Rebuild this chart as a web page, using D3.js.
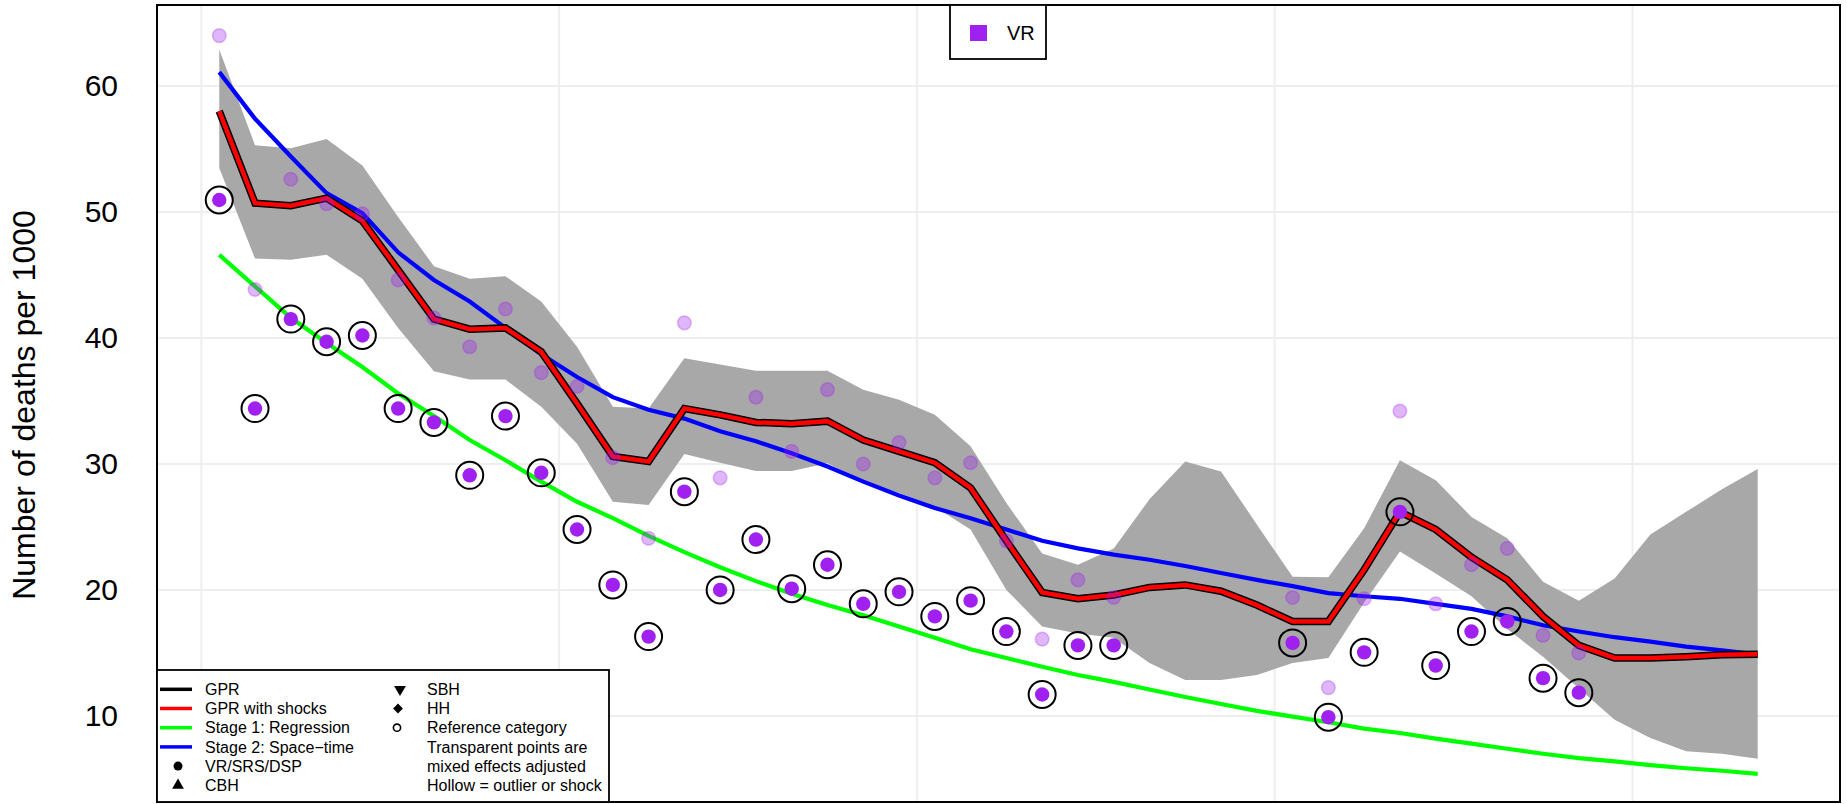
<!DOCTYPE html>
<html>
<head>
<meta charset="utf-8">
<script src="https://cdn.jsdelivr.net/npm/d3@7"></script>
<style>
  html, body { margin: 0; padding: 0; background: #ffffff; }
  svg { display: block; font-family: "Liberation Sans", Arial, Helvetica, sans-serif; }
</style>
</head>
<body>
<svg id="chart" width="1847" height="804"></svg>
<script>
// ---------------- DATA ----------------
const years = [1970.5, 1971.5, 1972.5, 1973.5, 1974.5, 1975.5, 1976.5, 1977.5, 1978.5, 1979.5,
  1980.5, 1981.5, 1982.5, 1983.5, 1984.5, 1985.5, 1986.5, 1987.5, 1988.5, 1989.5,
  1990.5, 1991.5, 1992.5, 1993.5, 1994.5, 1995.5, 1996.5, 1997.5, 1998.5, 1999.5,
  2000.5, 2001.5, 2002.5, 2003.5, 2004.5, 2005.5, 2006.5, 2007.5, 2008.5, 2009.5,
  2010.5, 2011.5, 2012.5, 2013.5];

const gpr = [58.0, 50.7, 50.5, 51.1, 49.3, 45.4, 41.5, 40.7, 40.8, 38.9,
  34.8, 30.6, 30.2, 34.4, 33.9, 33.3, 33.2, 33.4, 31.9, 31.0,
  30.1, 28.1, 23.9, 19.8, 19.3, 19.6, 20.2, 20.4, 19.9, 18.8,
  17.5, 17.5, 21.6, 26.2, 24.8, 22.6, 20.8, 17.9, 15.6, 14.6,
  14.6, 14.7, 14.85, 14.9];

const gprShocks = [58.0, 50.7, 50.5, 51.1, 49.3, 45.4, 41.5, 40.7, 40.8, 38.9,
  34.8, 30.6, 30.2, 34.4, 33.9, 33.3, 33.2, 33.4, 31.9, 31.0,
  30.1, 28.1, 23.9, 19.8, 19.3, 19.6, 20.2, 20.4, 19.9, 18.8,
  17.5, 17.5, 21.6, 26.2, 24.8, 22.6, 20.8, 17.9, 15.6, 14.6,
  14.6, 14.7, 14.85, 14.9];

const stage1 = [46.6, 44.1, 41.6, 39.6, 37.7, 35.6, 33.8, 31.9, 30.3, 28.6,
  27.0, 25.7, 24.3, 23.0, 21.8, 20.7, 19.7, 18.8, 18.0, 17.1,
  16.2, 15.3, 14.6, 13.9, 13.25, 12.7, 12.1, 11.5, 10.95, 10.4,
  9.95, 9.5, 9.0, 8.65, 8.2, 7.8, 7.4, 7.0, 6.65, 6.4,
  6.1, 5.85, 5.65, 5.4];

const stage2 = [61.1, 57.4, 54.4, 51.5, 49.9, 46.8, 44.6, 42.9, 40.8, 38.7,
  36.9, 35.3, 34.3, 33.6, 32.6, 31.8, 30.85, 29.8, 28.6, 27.5,
  26.5, 25.7, 24.8, 23.9, 23.3, 22.8, 22.4, 21.9, 21.35, 20.8,
  20.3, 19.75, 19.5, 19.3, 18.9, 18.5, 17.9, 17.2, 16.7, 16.25,
  15.9, 15.5, 15.2, 14.9];

const upperUI = [62.9, 55.3, 55.05, 55.8, 53.7, 49.6, 45.7, 44.7, 44.9, 42.9,
  39.3, 34.55, 34.4, 38.4, 37.9, 37.4, 37.4, 37.4, 35.9, 35.1,
  33.9, 31.4, 26.9, 22.9, 22.0, 23.3, 27.2, 30.2, 29.4, 25.2,
  21.05, 21.0, 24.9, 30.3, 28.7, 25.8, 24.1, 20.65, 19.15, 20.9,
  24.4, 26.2, 28.0, 29.6];

const lowerUI = [53.5, 46.3, 46.2, 46.6, 44.7, 40.8, 37.35, 36.7, 36.7, 34.55,
  31.6, 27.0, 26.75, 30.8, 30.1, 29.45, 29.45, 30.05, 28.6, 27.7,
  26.6, 24.8, 20.0, 17.1, 16.55, 16.2, 14.2, 12.85, 12.85, 13.25,
  14.2, 14.6, 19.0, 23.05, 21.3, 19.5, 16.9, 14.7, 12.2, 9.7,
  8.25, 7.2, 7.0, 6.6];

// VR data points (raw, flagged as outlier/shock -> drawn with ring)
const vrYears = [1970.5, 1971.5, 1972.5, 1973.5, 1974.5, 1975.5, 1976.5, 1977.5, 1978.5, 1979.5,
  1980.5, 1981.5, 1982.5, 1983.5, 1984.5, 1985.5, 1986.5, 1987.5, 1988.5, 1989.5,
  1990.5, 1991.5, 1992.5, 1993.5, 1994.5, 1995.5,
  2000.5, 2001.5, 2002.5, 2003.5, 2004.5, 2005.5, 2006.5, 2007.5, 2008.5];
const vrRaw = [50.95, 34.4, 41.5, 39.7, 40.2, 34.4, 33.3, 29.1, 33.8, 29.3,
  24.8, 20.4, 16.3, 27.8, 20.0, 24.0, 20.1, 22.0, 18.9, 19.85,
  17.9, 19.15, 16.7, 11.7, 15.6, 15.6,
  15.8, 9.9, 15.05, 26.2, 14.0, 16.7, 17.5, 13.0, 11.85];
// mixed-effects adjusted values (transparent)
const vrAdjusted = [64.0, 43.85, 52.6, 50.65, 49.85, 44.6, 41.6, 39.3, 42.3, 37.25,
  36.15, 30.5, 24.1, 41.2, 28.9, 35.3, 31.0, 35.9, 30.0, 31.7,
  28.9, 30.1, 23.9, 16.1, 20.8, 19.4,
  19.4, 12.25, 19.3, 34.2, 18.9, 22.0, 23.3, 16.4, 15.0];

const yTicks = [10, 20, 30, 40, 50, 60];
const xGridYears = [1970, 1980, 1990, 2000, 2010];
const sourceLegend = ["VR"];
const lineLegend = ["GPR", "GPR with shocks", "Stage 1: Regression", "Stage 2: Space\u2212time"];
const lineLegendColors = ["#000000", "#FF0000", "#00FF00", "#0000FF"];
const shapeLegend = ["VR/SRS/DSP", "CBH"];
const col2Legend = ["SBH", "HH", "Reference category", "Transparent points are", "mixed effects adjusted", "Hollow = outlier or shock"];

// ---------------- CHART ----------------
const svg = d3.select("#chart");
const L = 157, R = 1840, T = 5, B = 802;
const PURPLE = "#A020F0";

const x = d3.scaleLinear().domain([1968.76, 2015.8]).range([L, R]);
const y = d3.scaleLinear().domain([3.17, 66.43]).range([B, T]);

// grid
const grid = svg.append("g");
grid.selectAll("line.h").data(yTicks).join("line")
  .attr("x1", L).attr("x2", R)
  .attr("y1", d => y(d)).attr("y2", d => y(d))
  .attr("stroke", "#EEEEEE").attr("stroke-width", 2);
grid.selectAll("line.v").data(xGridYears).join("line")
  .attr("x1", d => x(d)).attr("x2", d => x(d))
  .attr("y1", T).attr("y2", B)
  .attr("stroke", "#EEEEEE").attr("stroke-width", 2);

// uncertainty band
const bandData = years.map((yr, i) => ({ yr, lo: lowerUI[i], hi: upperUI[i] }));
svg.append("path").datum(bandData)
  .attr("d", d3.area().x(d => x(d.yr)).y0(d => y(d.lo)).y1(d => y(d.hi)))
  .attr("fill", "#A8A8A8");

const lineGen = arr => d3.line().x((d, i) => x(years[i])).y(d => y(d))(arr);

svg.append("path").attr("d", lineGen(stage1))
  .attr("fill", "none").attr("stroke", "#00FF00").attr("stroke-width", 4.2);
svg.append("path").attr("d", lineGen(stage2))
  .attr("fill", "none").attr("stroke", "#0000FF").attr("stroke-width", 4.2);
svg.append("path").attr("d", lineGen(gpr))
  .attr("fill", "none").attr("stroke", "#000000").attr("stroke-width", 7.5)
  .attr("stroke-linejoin", "miter");
svg.append("path").attr("d", lineGen(gprShocks))
  .attr("fill", "none").attr("stroke", "#FF0000").attr("stroke-width", 4.5)
  .attr("stroke-linejoin", "miter");

// adjusted (transparent) points
svg.append("g").selectAll("circle").data(vrAdjusted).join("circle")
  .attr("cx", (d, i) => x(vrYears[i])).attr("cy", d => y(d)).attr("r", 6.8)
  .attr("fill", PURPLE).attr("fill-opacity", 0.33)
  .attr("stroke", PURPLE).attr("stroke-opacity", 0.3).attr("stroke-width", 1.5);

// raw points with ring
const raw = svg.append("g");
raw.selectAll("circle.ring").data(vrRaw).join("circle")
  .attr("cx", (d, i) => x(vrYears[i])).attr("cy", d => y(d)).attr("r", 13.5)
  .attr("fill", "none").attr("stroke", "#000").attr("stroke-width", 2);
raw.selectAll("circle.dot").data(vrRaw).join("circle")
  .attr("cx", (d, i) => x(vrYears[i])).attr("cy", d => y(d)).attr("r", 7.2)
  .attr("fill", PURPLE);

// y axis
const yAxis = svg.append("g").attr("transform", `translate(${L},0)`)
  .call(d3.axisLeft(y).tickValues(yTicks).tickSize(0).tickPadding(39).tickFormat(d3.format("d")));
yAxis.select(".domain").remove();
yAxis.selectAll("text").attr("font-size", 30).attr("fill", "#000")
  .attr("font-family", "'Liberation Sans', Arial, sans-serif");

svg.append("text")
  .attr("transform", "translate(35,405) rotate(-90)")
  .attr("text-anchor", "middle")
  .attr("font-size", 32).attr("fill", "#000")
  .text("Number of deaths per 1000");

// frame
svg.append("rect").attr("x", L).attr("y", T).attr("width", R - L).attr("height", B - T)
  .attr("fill", "none").attr("stroke", "#000").attr("stroke-width", 2);

// top source legend
const topLeg = svg.append("g");
topLeg.append("rect").attr("x", 950).attr("y", T).attr("width", 96).attr("height", 54)
  .attr("fill", "#fff").attr("stroke", "#000").attr("stroke-width", 1.8);
topLeg.selectAll("rect.key").data(sourceLegend).join("rect")
  .attr("x", 970).attr("y", 25).attr("width", 17).attr("height", 16).attr("fill", PURPLE);
topLeg.selectAll("text").data(sourceLegend).join("text")
  .attr("x", 1007).attr("y", 40).attr("font-size", 20).attr("fill", "#000").text(d => d);

// bottom-left legend
const leg = svg.append("g");
leg.append("rect").attr("x", L).attr("y", 670).attr("width", 452).attr("height", B - 670)
  .attr("fill", "#fff").attr("stroke", "#000").attr("stroke-width", 1.8);
const rowY = i => 689.3 + i * 19.2;
leg.selectAll("line.k").data(lineLegend).join("line")
  .attr("x1", 160).attr("x2", 192)
  .attr("y1", (d, i) => rowY(i)).attr("y2", (d, i) => rowY(i))
  .attr("stroke", (d, i) => lineLegendColors[i]).attr("stroke-width", 3.5);
leg.selectAll("text.c1").data(lineLegend.concat(shapeLegend)).join("text")
  .attr("x", 205).attr("y", (d, i) => rowY(i) + 5.7)
  .attr("font-size", 16).attr("fill", "#000").text(d => d);
leg.append("path").attr("transform", `translate(178,${rowY(4)})`)
  .attr("d", d3.symbol(d3.symbolCircle, 64)()).attr("fill", "#000");
leg.append("path").attr("transform", `translate(178,${rowY(5)})`)
  .attr("d", d3.symbol(d3.symbolTriangle, 60)()).attr("fill", "#000");
leg.append("path").attr("transform", `translate(400,${rowY(0)}) rotate(180)`)
  .attr("d", d3.symbol(d3.symbolTriangle, 60)()).attr("fill", "#000");
leg.append("path").attr("transform", `translate(398,${rowY(1)}) rotate(45)`)
  .attr("d", d3.symbol(d3.symbolSquare, 48)()).attr("fill", "#000");
leg.append("circle").attr("cx", 397).attr("cy", rowY(2)).attr("r", 3.6)
  .attr("fill", "none").attr("stroke", "#000").attr("stroke-width", 1.6);
leg.selectAll("text.c2").data(col2Legend).join("text")
  .attr("x", 427).attr("y", (d, i) => rowY(i) + 5.7)
  .attr("font-size", 16).attr("fill", "#000").text(d => d);
</script>
</body>
</html>
